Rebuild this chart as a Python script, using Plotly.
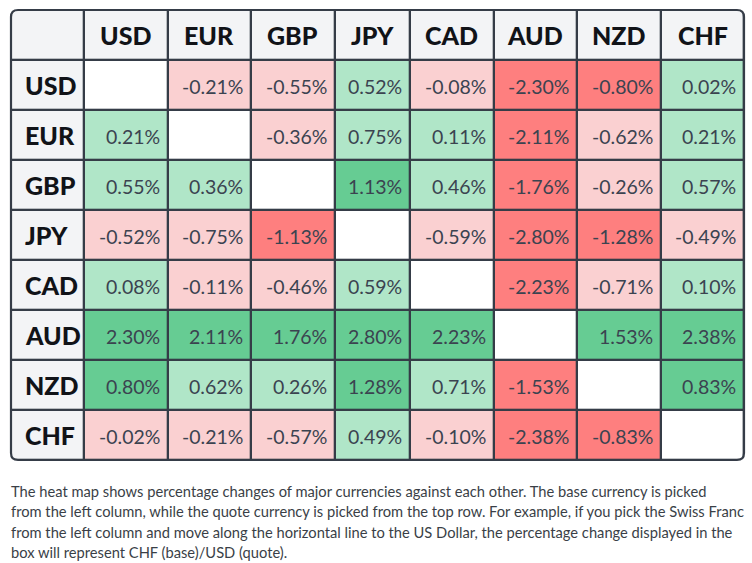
import plotly.graph_objects as go

currencies = ["USD", "EUR", "GBP", "JPY", "CAD", "AUD", "NZD", "CHF"]

# rows = base currency, columns = quote currency (None on diagonal)
values = [
    [None, -0.21, -0.55, 0.52, -0.08, -2.30, -0.80, 0.02],
    [0.21, None, -0.36, 0.75, 0.11, -2.11, -0.62, 0.21],
    [0.55, 0.36, None, 1.13, 0.46, -1.76, -0.26, 0.57],
    [-0.52, -0.75, -1.13, None, -0.59, -2.80, -1.28, -0.49],
    [0.08, -0.11, -0.46, 0.59, None, -2.23, -0.71, 0.10],
    [2.30, 2.11, 1.76, 2.80, 2.23, None, 1.53, 2.38],
    [0.80, 0.62, 0.26, 1.28, 0.71, -1.53, None, 0.83],
    [-0.02, -0.21, -0.57, 0.49, -0.10, -2.38, -0.83, None],
]

description = [
    "The heat map shows percentage changes of major currencies against each other. The base currency is picked",
    "from the left column, while the quote currency is picked from the top row. For example, if you pick the Swiss Franc",
    "from the left column and move along the horizontal line to the US Dollar, the percentage change displayed in the",
    "box will represent CHF (base)/USD (quote).",
]

# ---- styling ----
HEADER_BG = "#f3f4f6"
DIAG_BG = "#ffffff"
LIGHT_RED = "#fad0d1"
STRONG_RED = "#fe7f7f"
LIGHT_GREEN = "#b0e6c8"
STRONG_GREEN = "#66cc93"
LINE = "#353c47"
CELL_TEXT = "#3b4350"
HEAD_TEXT = "#111318"
STRONG = 0.8

COL_WIDTHS = [73, 83.7, 83.3, 84, 74.7, 84.6, 82.7, 84.7, 82.6]  # header col + 8 columns (px)
ROW_H = 50
PAD = 3

n = len(currencies)
x_edges = [0.0]
for w in COL_WIDTHS:
    x_edges.append(x_edges[-1] + w)
y_edges = [ROW_H * i for i in range(n + 2)]
W, H = x_edges[-1], y_edges[-1]


def code(v):
    if v is None:
        return 1
    if v < 0:
        return 3 if v <= -STRONG else 2
    return 5 if v >= STRONG else 4


z = [[0] * (n + 1)]
for r in range(n):
    z.append([0] + [code(v) for v in values[r]])

palette = [HEADER_BG, DIAG_BG, LIGHT_RED, STRONG_RED, LIGHT_GREEN, STRONG_GREEN]
cs = []
for i, c in enumerate(palette):
    cs.append([i / len(palette), c])
    cs.append([(i + 1) / len(palette), c])

fig = go.Figure(
    go.Heatmap(
        z=z, x=x_edges, y=y_edges, colorscale=cs, zmin=0, zmax=len(palette),
        showscale=False, xgap=2.3, ygap=2.3, hoverinfo="skip",
    )
)

head_font = dict(family="Lato", size=25, color=HEAD_TEXT, weight=900)
annotations = []
for i, cur in enumerate(currencies):
    cx = (x_edges[i + 1] + x_edges[i + 2]) / 2
    annotations.append(dict(x=cx, y=ROW_H / 2, text=cur, xref="x", yref="y",
                            showarrow=False, xanchor="center", yanchor="middle",
                            font=head_font))
    cy = (y_edges[i + 1] + y_edges[i + 2]) / 2
    annotations.append(dict(x=12, y=cy, text=cur, xref="x", yref="y",
                            showarrow=False, xanchor="left", yanchor="middle",
                            font=head_font))
for r in range(n):
    cy = (y_edges[r + 1] + y_edges[r + 2]) / 2 + 1
    for c in range(n):
        v = values[r][c]
        if v is None:
            continue
        annotations.append(dict(x=x_edges[c + 2] - 6, y=cy, text=f"{v:.2f}%", xref="x", yref="y",
                                showarrow=False, xanchor="right", yanchor="middle",
                                font=dict(family="Lato", size=19.5, color=CELL_TEXT)))

span = H + 2 * PAD
for k, line in enumerate(description):
    d = H + 31 + 20.3 * k
    annotations.append(dict(x=-2, y=(H + PAD - d) / span, text=line, xref="x", yref="paper",
                            showarrow=False, xanchor="left", yanchor="middle",
                            font=dict(family="Lato", size=14.7, color="#3a3f47")))

r = 7
shapes = [
    dict(type="rect", x0=0, x1=W, y0=0, y1=H, xref="x", yref="y", layer="below",
         fillcolor=LINE, line=dict(width=0)),
]
corners = [
    f"M 0,0 L {r},0 Q 0,0 0,{r} Z",
    f"M {W},0 L {W - r},0 Q {W},0 {W},{r} Z",
    f"M 0,{H} L {r},{H} Q 0,{H} 0,{H - r} Z",
    f"M {W},{H} L {W - r},{H} Q {W},{H} {W},{H - r} Z",
]
for p in corners:
    shapes.append(dict(type="path", path=p, xref="x", yref="y", layer="above",
                       fillcolor="white", line=dict(width=0)))
frame = (f"M {r},0 L {W - r},0 Q {W},0 {W},{r} L {W},{H - r} Q {W},{H} {W - r},{H} "
         f"L {r},{H} Q 0,{H} 0,{H - r} L 0,{r} Q 0,0 {r},0 Z")
shapes.append(dict(type="path", path=frame, xref="x", yref="y", layer="above",
                   line=dict(color=LINE, width=2.2)))

left, top = 11, 10
fig.update_layout(
    width=752, height=563,
    margin=dict(l=left - PAD, r=752 - (left + W) - PAD, t=top - PAD, b=563 - (top + H) - PAD, pad=0),
    paper_bgcolor="white", plot_bgcolor="white",
    xaxis=dict(range=[-PAD, W + PAD], visible=False, fixedrange=True),
    yaxis=dict(range=[H + PAD, -PAD], visible=False, fixedrange=True),
    annotations=annotations, shapes=shapes, showlegend=False,
)

fig.write_html("out.html", config={"displayModeBar": False})
